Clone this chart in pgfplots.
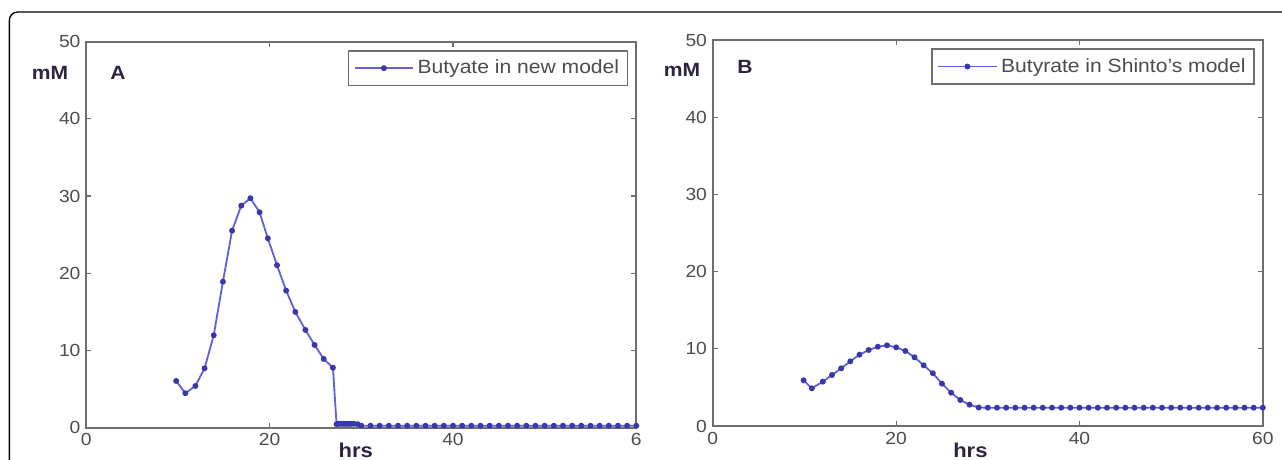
\documentclass[border=0pt]{standalone}
\usepackage{fontspec}
\setmainfont{Liberation Sans}[FakeStretch=1.1]
\usepackage{pgfplots}
\pgfplotsset{compat=1.18}
\definecolor{axgray}{HTML}{6E6E6E}
\definecolor{txtgray}{HTML}{4C4C4C}
\definecolor{lineblue}{HTML}{6262D6}
\definecolor{markblue}{HTML}{3838AC}
\definecolor{lbl}{HTML}{2E2440}

\tikzset{lab/.style={font=\bfseries\fontsize{11.5}{13}\selectfont, text=lbl}}
\pgfplotsset{
  panel/.style={
    scale only axis, width=330pt, height=231.6pt, anchor=south west,
    xmin=0, xmax=60, ymin=0, ymax=50,
    xtick={0,20,40,60}, ytick={0,10,...,50},
    tick align=inside, major tick length=3pt,
    axis line style={draw=axgray, line width=1.1pt},
    tick style={draw=axgray, line width=0.7pt},
    tick label style={font=\fontsize{10.5}{12}\selectfont, color=txtgray},
    /pgf/number format/assume math mode=true,
    clip=false,
    legend style={at={(1,1)}, anchor=north east, xshift=-4.8pt, yshift=-5pt,
      draw=axgray, line width=1pt, font=\fontsize{11.5}{13}\selectfont,
      text=txtgray, inner xsep=3pt, inner ysep=3.5pt},
    legend image code/.code={\draw[mark repeat=2,mark phase=2,#1]
      plot coordinates {(0cm,0cm) (0.62cm,0cm) (1.24cm,0cm)};},
  },
  bline/.style={color=lineblue, line width=1.1pt, mark=*, mark size=1.2pt,
    mark options={fill=markblue, draw=markblue}},
}

\begin{document}
\begin{tikzpicture}
\draw[line width=0.8pt, rounded corners=5pt] (5.6pt,-20pt) rectangle (790pt,268.8pt);

% panel A
\begin{axis}[panel, at={(51.8pt,19.4pt)}, xticklabels={0,20,40,6}]
\addplot[bline] coordinates {
  (9.8,6.05) (10.8,4.46) (11.9,5.40) (12.9,7.69) (13.9,11.97) (14.9,18.91)
  (15.9,25.52) (16.9,28.76) (17.9,29.72) (18.9,27.90) (19.8,24.53) (20.8,21.04)
  (21.8,17.75) (22.8,14.99) (23.9,12.66) (24.9,10.71) (25.9,8.90) (26.9,7.77)
  (27.3,0.45) (27.5,0.5) (27.7,0.5) (27.9,0.5) (28.1,0.5) (28.3,0.5) (28.5,0.5)
  (28.7,0.5) (28.9,0.5) (29.2,0.5) (29.6,0.45)
  (30,0.25) (31,0.25) (32,0.25) (33,0.25) (34,0.25) (35,0.25) (36,0.25)
  (37,0.25) (38,0.25) (39,0.25) (40,0.25) (41,0.25) (42,0.25) (43,0.25)
  (44,0.25) (45,0.25) (46,0.25) (47,0.25) (48,0.25) (49,0.25) (50,0.25)
  (51,0.25) (52,0.25) (53,0.25) (54,0.25) (55,0.25) (56,0.25) (57,0.25)
  (58,0.25) (59,0.25) (60,0.25)
};
\addlegendentry{Butyate in new model}
\node[lab] at (axis cs:-3.96,45.9) {mM};
\node[lab] at (axis cs:3.46,45.9) {A};
\node[lab, font=\bfseries\fontsize{12}{14}\selectfont, anchor=base] at (axis cs:29.4,-3.85) {hrs};
\end{axis}

% panel B
\begin{axis}[panel, at={(427.7pt,20.4pt)}]
\addplot[bline] coordinates {
  (9.9,5.92) (10.8,4.88) (12,5.74) (13,6.61) (14,7.47) (15,8.38) (16,9.24)
  (17,9.84) (18,10.27) (19,10.45) (20,10.19) (21,9.72) (22,8.90) (23,7.86)
  (24,6.83) (25,5.48) (26,4.31) (27,3.37) (28,2.76) (29,2.40)
  (30,2.37) (31,2.37) (32,2.37) (33,2.37) (34,2.37) (35,2.37) (36,2.37)
  (37,2.37) (38,2.37) (39,2.37) (40,2.37) (41,2.37) (42,2.37) (43,2.37)
  (44,2.37) (45,2.37) (46,2.37) (47,2.37) (48,2.37) (49,2.37) (50,2.37)
  (51,2.37) (52,2.37) (53,2.37) (54,2.37) (55,2.37) (56,2.37) (57,2.37)
  (58,2.37) (59,2.37) (60,2.37)
};
\addlegendentry{Butyrate in Shinto's model}
\node[lab] at (axis cs:-3.37,46.1) {mM};
\node[lab] at (axis cs:3.5,46.5) {B};
\node[lab, font=\bfseries\fontsize{12}{14}\selectfont, anchor=base] at (axis cs:28.1,-4.05) {hrs};
\end{axis}

\pgfresetboundingbox
\useasboundingbox (0,0) rectangle (769.2pt,276pt);
\end{tikzpicture}
\end{document}
